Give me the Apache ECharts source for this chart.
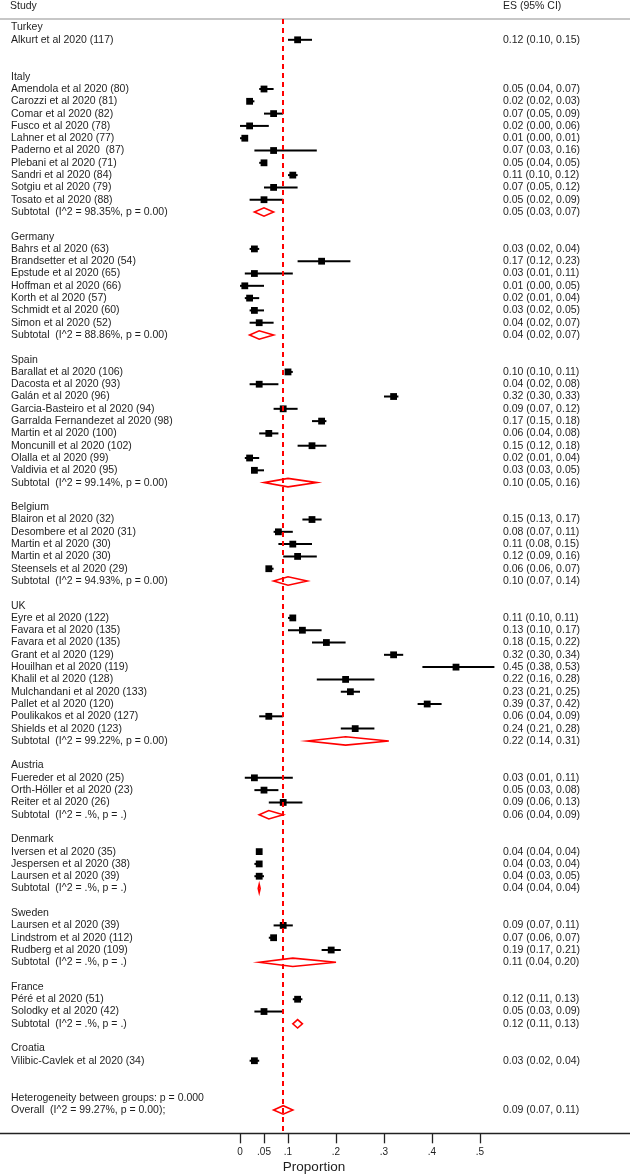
<!DOCTYPE html>
<html><head><meta charset="utf-8">
<script src="https://cdn.jsdelivr.net/npm/echarts@6/dist/echarts.min.js"></script>
<style>html,body{margin:0;padding:0;background:#fff}#chart{width:630px;height:1175px}</style>
</head><body><div id="chart"></div>
<script>
// ---------------- DATA ----------------
const groups = ['Turkey','Italy','Germany','Spain','Belgium','UK','Austria','Denmark','Sweden','France','Croatia'];

const studyNames = [
  'Alkurt et al 2020 (117)',
  'Amendola et al 2020 (80)','Carozzi et al 2020 (81)','Comar et al 2020 (82)','Fusco et al 2020 (78)','Lahner et al 2020 (77)',
  'Paderno et al 2020  (87)','Plebani et al 2020 (71)','Sandri et al 2020 (84)','Sotgiu et al 2020 (79)','Tosato et al 2020 (88)',
  'Bahrs et al 2020 (63)','Brandsetter et al 2020 (54)','Epstude et al 2020 (65)','Hoffman et al 2020 (66)','Korth et al 2020 (57)',
  'Schmidt et al 2020 (60)','Simon et al 2020 (52)',
  'Barallat et al 2020 (106)','Dacosta et al 2020 (93)','Galán et al 2020 (96)','Garcia-Basteiro et al 2020 (94)',
  'Garralda Fernandezet al 2020 (98)','Martin et al 2020 (100)','Moncunill et al 2020 (102)','Olalla et al 2020 (99)','Valdivia et al 2020 (95)',
  'Blairon et al 2020 (32)','Desombere et al 2020 (31)','Martin et al 2020 (30)','Martin et al 2020 (30)','Steensels et al 2020 (29)',
  'Eyre et al 2020 (122)','Favara et al 2020 (135)','Favara et al 2020 (135)','Grant et al 2020 (129)','Houilhan et al 2020 (119)',
  'Khalil et al 2020 (128)','Mulchandani et al 2020 (133)','Pallet et al 2020 (120)','Poulikakos et al 2020 (127)','Shields et al 2020 (123)',
  'Fuereder et al 2020 (25)','Orth-Höller et al 2020 (23)','Reiter et al 2020 (26)',
  'Iversen et al 2020 (35)','Jespersen et al 2020 (38)','Laursen et al 2020 (39)',
  'Laursen et al 2020 (39)','Lindstrom et al 2020 (112)','Rudberg et al 2020 (109)',
  'Péré et al 2020 (51)','Solodky et al 2020 (42)',
  'Vilibic-Cavlek et al 2020 (34)'
];
const studyGroup = [
  0,
  1,1,1,1,1,1,1,1,1,1,
  2,2,2,2,2,2,2,
  3,3,3,3,3,3,3,3,3,
  4,4,4,4,4,
  5,5,5,5,5,5,5,5,5,5,
  6,6,6,
  7,7,7,
  8,8,8,
  9,9,
  10
];
const studyES = [
  0.12,
  0.05,0.02,0.07,0.02,0.01,0.07,0.05,0.11,0.07,0.05,
  0.03,0.17,0.03,0.01,0.02,0.03,0.04,
  0.10,0.04,0.32,0.09,0.17,0.06,0.15,0.02,0.03,
  0.15,0.08,0.11,0.12,0.06,
  0.11,0.13,0.18,0.32,0.45,0.22,0.23,0.39,0.06,0.24,
  0.03,0.05,0.09,
  0.04,0.04,0.04,
  0.09,0.07,0.19,
  0.12,0.05,
  0.03
];
const studyLo = [
  0.10,
  0.04,0.02,0.05,0.00,0.00,0.03,0.04,0.10,0.05,0.02,
  0.02,0.12,0.01,0.00,0.01,0.02,0.02,
  0.10,0.02,0.30,0.07,0.15,0.04,0.12,0.01,0.03,
  0.13,0.07,0.08,0.09,0.06,
  0.10,0.10,0.15,0.30,0.38,0.16,0.21,0.37,0.04,0.21,
  0.01,0.03,0.06,
  0.04,0.03,0.03,
  0.07,0.06,0.17,
  0.11,0.03,
  0.02
];
const studyHi = [
  0.15,
  0.07,0.03,0.09,0.06,0.01,0.16,0.05,0.12,0.12,0.09,
  0.04,0.23,0.11,0.05,0.04,0.05,0.07,
  0.11,0.08,0.33,0.12,0.18,0.08,0.18,0.04,0.05,
  0.17,0.11,0.15,0.16,0.07,
  0.11,0.17,0.22,0.34,0.53,0.28,0.25,0.42,0.09,0.28,
  0.11,0.08,0.13,
  0.04,0.04,0.05,
  0.11,0.07,0.21,
  0.13,0.09,
  0.04
];

const subtotalLabels = [
  null,
  'Subtotal  (I^2 = 98.35%, p = 0.00)',
  'Subtotal  (I^2 = 88.86%, p = 0.00)',
  'Subtotal  (I^2 = 99.14%, p = 0.00)',
  'Subtotal  (I^2 = 94.93%, p = 0.00)',
  'Subtotal  (I^2 = 99.22%, p = 0.00)',
  'Subtotal  (I^2 = .%, p = .)',
  'Subtotal  (I^2 = .%, p = .)',
  'Subtotal  (I^2 = .%, p = .)',
  'Subtotal  (I^2 = .%, p = .)',
  null
];
const subES = [null,0.05,0.04,0.10,0.10,0.22,0.06,0.04,0.11,0.12,null];
const subLo = [null,0.03,0.02,0.05,0.07,0.14,0.04,0.038,0.04,0.11,null];
const subHi = [null,0.07,0.07,0.16,0.14,0.31,0.09,0.042,0.20,0.13,null];

const hetLabel = 'Heterogeneity between groups: p = 0.000';
const overallLabel = 'Overall  (I^2 = 99.27%, p = 0.00);';
const overallES = 0.09, overallLo = 0.07, overallHi = 0.11;

const tickValues = [0, 0.05, 0.1, 0.2, 0.3, 0.4, 0.5];
const headerLeft = 'Study';
const headerRight = 'ES (95% CI)';
const xTitle = 'Proportion';

// ---------------- BUILD ROWS ----------------
const fmt = v => v.toFixed(2);
const ciText = (e, l, h) => fmt(e) + ' (' + fmt(l) + ', ' + fmt(h) + ')';

const textRows = [];   // [0, row, left, right]
const studyData = [];  // [es, row, lo, hi]
const diamondData = []; // [es, row, lo, hi]
let r = 0;
groups.forEach((g, gi) => {
  textRows.push([0, r, g, '']); r++;
  studyNames.forEach((n, si) => {
    if (studyGroup[si] !== gi) return;
    textRows.push([0, r, n, ciText(studyES[si], studyLo[si], studyHi[si])]);
    studyData.push([studyES[si], r, studyLo[si], studyHi[si]]);
    r++;
  });
  if (subtotalLabels[gi]) {
    textRows.push([0, r, subtotalLabels[gi], ciText(subES[gi], subLo[gi], subHi[gi])]);
    diamondData.push([subES[gi], r, subLo[gi], subHi[gi]]);
  }
  r++;      // subtotal row (blank if none)
  r++;      // spacer
});
textRows.push([0, r, hetLabel, '']); r++;
textRows.push([0, r, overallLabel, ciText(overallES, overallLo, overallHi)]);
diamondData.push([overallES, r, overallLo, overallHi]);

const FONT = '10.5px "Liberation Sans", Arial, Helvetica, sans-serif';
const TXT = '#1e1e1e';
const RED = '#ff0000';

const chart = echarts.init(document.getElementById('chart'), null, {renderer: 'canvas'});
chart.setOption({
  backgroundColor: '#ffffff',
  animation: false,
  grid: {left: 0, right: 0, top: 18.9, bottom: 41.7},
  xAxis: [{
    type: 'value', min: -0.5, max: 0.8125, position: 'bottom',
    axisLine: {show: true, onZero: false, lineStyle: {color: '#222', width: 1.3}},
    axisTick: {show: true, customValues: tickValues, length: 10, lineStyle: {color: '#222', width: 1.3}},
    axisLabel: {show: true, customValues: tickValues, margin: 14, fontSize: 10,
      fontFamily: '"Liberation Sans", Arial, sans-serif', color: TXT,
      formatter: v => (v === 0 ? '0' : String(v).replace(/^0\./, '.'))},
    splitLine: {show: false}
  }, {
    type: 'value', min: -0.5, max: 0.8125, position: 'top',
    axisLine: {show: true, onZero: false, lineStyle: {color: '#b4b4b4', width: 1.6}},
    axisTick: {show: false}, axisLabel: {show: false}, splitLine: {show: false}
  }],
  yAxis: {type: 'value', inverse: true, min: -0.7, max: 89.9, show: false},
  graphic: [
    {type: 'text', left: 10, top: 1, style: {text: headerLeft, font: FONT, fill: TXT}},
    {type: 'text', left: 503, top: 1, style: {text: headerRight, font: FONT, fill: TXT}},
    {type: 'text', x: 314, y: 1167, style: {text: xTitle, font: '13.5px "Liberation Sans", Arial, sans-serif', fill: TXT, align: 'center', verticalAlign: 'middle'}}
  ],
  series: [
    {
      type: 'custom', name: 'text', data: textRows, encode: {x: 0, y: 1}, silent: true, z: 5,
      renderItem: (params, api) => {
        const idx = params.dataIndex;
        const row = textRows[idx];
        const y = api.coord([0, row[1]])[1];
        const children = [{type: 'text', style: {text: row[2], x: 11, y: y, font: FONT, fill: TXT, align: 'left', verticalAlign: 'middle'}}];
        if (row[3]) children.push({type: 'text', style: {text: row[3], x: 503, y: y, font: FONT, fill: TXT, align: 'left', verticalAlign: 'middle'}});
        return {type: 'group', children};
      }
    },
    {
      type: 'custom', name: 'studies', data: studyData, encode: {x: [0, 2, 3], y: 1}, silent: true, z: 3,
      renderItem: (params, api) => {
        const row = api.value(1);
        const p = api.coord([api.value(0), row]);
        const l = api.coord([api.value(2), row]);
        const h = api.coord([api.value(3), row]);
        const s = 6.8;
        return {type: 'group', children: [
          {type: 'line', shape: {x1: l[0], y1: p[1], x2: h[0], y2: p[1]}, style: {stroke: '#000', lineWidth: 2}},
          {type: 'rect', shape: {x: p[0] - s / 2, y: p[1] - s / 2, width: s, height: s}, style: {fill: '#000'}}
        ]};
      },
      markLine: {
        silent: true, symbol: 'none', label: {show: false},
        lineStyle: {color: RED, type: [5, 4], width: 2},
        data: [{xAxis: overallES}]
      }
    },
    {
      type: 'custom', name: 'diamonds', data: diamondData, encode: {x: [0, 2, 3], y: 1}, silent: true, z: 4,
      renderItem: (params, api) => {
        const row = api.value(1);
        const p = api.coord([api.value(0), row]);
        const l = api.coord([api.value(2), row]);
        const h = api.coord([api.value(3), row]);
        const hh = 4.2;
        return {type: 'polygon', shape: {points: [[l[0], p[1]], [p[0], p[1] - hh], [h[0], p[1]], [p[0], p[1] + hh]]},
          style: {fill: 'none', stroke: RED, lineWidth: 1.6}};
      }
    }
  ]
});
</script></body></html>
